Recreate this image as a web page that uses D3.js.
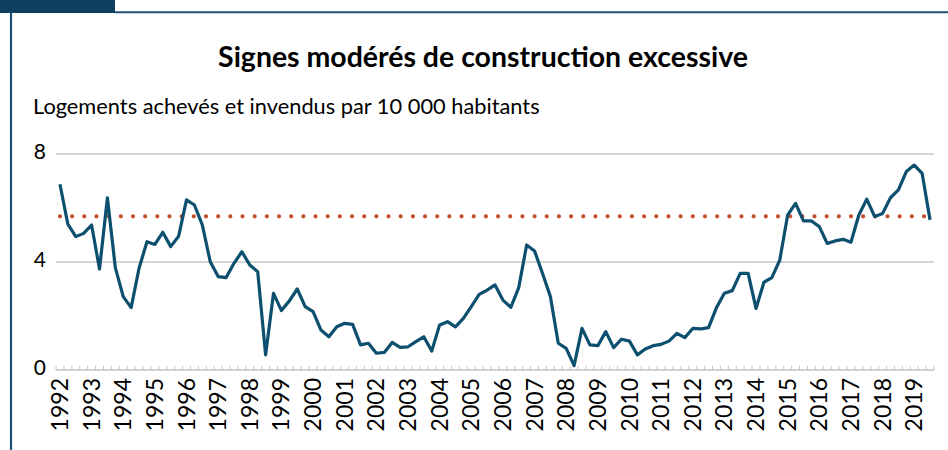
<!DOCTYPE html>
<html>
<head>
<meta charset="utf-8">
<script src="https://cdn.jsdelivr.net/npm/d3@7"></script>
<style>
  html, body { margin: 0; padding: 0; background: #fff; }
  svg { display: block; }
  text { font-family: Lato, "Open Sans", sans-serif; fill: #000; }
</style>
</head>
<body>
<svg id="chart" width="948" height="450"></svg>
<script>
// ---- Data (quarterly, 1992Q1 – 2019Q3) ----
const startYear = 1992;
const values = [
  6.88, 5.40, 4.94, 5.06, 5.37, 3.74, 6.38, 3.79, 2.72, 2.31, 3.77, 4.75,
  4.65, 5.10, 4.57, 4.95, 6.30, 6.11, 5.37, 4.01, 3.46, 3.42, 3.95, 4.38,
  3.89, 3.64, 0.56, 2.84, 2.20, 2.56, 3.00, 2.35, 2.16, 1.48, 1.23, 1.60,
  1.73, 1.69, 0.93, 0.99, 0.62, 0.65, 1.02, 0.84, 0.86, 1.05, 1.23, 0.70,
  1.67, 1.79, 1.60, 1.91, 2.35, 2.80, 2.96, 3.15, 2.59, 2.32, 3.05, 4.63,
  4.41, 3.58, 2.72, 0.99, 0.80, 0.16, 1.54, 0.93, 0.90, 1.42, 0.83, 1.14,
  1.07, 0.56, 0.78, 0.90, 0.95, 1.07, 1.36, 1.20, 1.54, 1.52, 1.57, 2.31,
  2.84, 2.94, 3.58, 3.58, 2.28, 3.25, 3.42, 4.07, 5.74, 6.17, 5.52, 5.52,
  5.31, 4.69, 4.78, 4.84, 4.73, 5.74, 6.33, 5.68, 5.80, 6.38, 6.67, 7.35,
  7.59, 7.28, 5.56
];
const averageValue = 5.69;
const yTicks = [0, 4, 8];
const yearLabels = d3.range(1992, 2020).map(String);
const titleText = "Signes modérés de construction excessive";
const subtitleText = "Logements achevés et invendus par 10 000 habitants";

// ---- Layout ----
const svg = d3.select("#chart");
const frameColor = "#1d5278";
const lineColor = "#0c4f6e";
const avgColor = "#c24e2a";
const gridColor = "#c8c8c8";

// Frame / header tab
svg.append("rect").attr("x", 0).attr("y", 0).attr("width", 115).attr("height", 13).attr("fill", "#0f3f61");
svg.append("line").attr("x1", 115).attr("x2", 948).attr("y1", 12.2).attr("y2", 12.2)
  .attr("stroke", frameColor).attr("stroke-width", 2);
svg.append("line").attr("x1", 11).attr("x2", 11).attr("y1", 12).attr("y2", 450)
  .attr("stroke", frameColor).attr("stroke-width", 2.2);

// Fit text to a target width
function fitText(sel, targetWidth, startSize) {
  sel.style("font-size", startSize + "px");
  const w = sel.node().getComputedTextLength();
  const s = startSize * targetWidth / w;
  sel.style("font-size", s + "px");
}

const title = svg.append("text").attr("x", 483).attr("y", 67)
  .attr("text-anchor", "middle").style("font-weight", "700").text(titleText);
fitText(title, 530, 22);

const subtitle = svg.append("text").attr("x", 33).attr("y", 114).text(subtitleText);
fitText(subtitle, 507, 20);

// Scales
const idx = d3.range(values.length);
const x = d3.scaleBand().domain(idx).range([56, 934]).padding(0);
const cx = i => x(i) + x.bandwidth() / 2;
const y = d3.scaleLinear().domain([0, 8]).range([370, 154]);

// Gridlines
svg.append("g").selectAll("line").data(yTicks.filter(d => d > 0)).join("line")
  .attr("x1", 56).attr("x2", 934)
  .attr("y1", d => y(d)).attr("y2", d => y(d))
  .attr("stroke", gridColor).attr("stroke-width", 1.3);

// Y axis labels
const yAxis = d3.axisLeft(y).tickValues(yTicks).tickSize(0).tickPadding(0).tickFormat(d3.format("d"));
const gy = svg.append("g").attr("transform", "translate(46,-2)").call(yAxis);
gy.select(".domain").remove();
gy.selectAll("text").style("font-size", "21px").style("font-family", "Lato, sans-serif").attr("fill", "#000");

// X axis line + minor ticks
svg.append("line").attr("x1", 56).attr("x2", 934).attr("y1", y(0)).attr("y2", y(0))
  .attr("stroke", "#c4c4c4").attr("stroke-width", 1.5);
const boundaries = d3.range(values.length + 1).map(i => x.range()[0] + i * x.step());
svg.append("g").selectAll("line").data(boundaries).join("line")
  .attr("x1", d => d).attr("x2", d => d)
  .attr("y1", y(0) - 4).attr("y2", y(0))
  .attr("stroke", "#c4c4c4").attr("stroke-width", 1);

// X labels (rotated)
const yearIdx = yearLabels.map((s, k) => k * 4);
const xAxis = d3.axisBottom(x).tickValues(yearIdx).tickSize(0).tickPadding(0)
  .tickFormat(i => yearLabels[i / 4]);
const gx = svg.append("g").attr("transform", "translate(0,378)").call(xAxis);
gx.select(".domain").remove();
gx.selectAll("text")
  .style("font-size", "23px").style("font-family", "Lato, sans-serif").attr("fill", "#000")
  .attr("transform", "rotate(-90)")
  .attr("text-anchor", "end")
  .attr("x", 0).attr("y", 0).attr("dy", "0.35em");

// Average dotted line
svg.append("line")
  .attr("x1", cx(0)).attr("x2", cx(values.length - 1))
  .attr("y1", y(averageValue)).attr("y2", y(averageValue))
  .attr("stroke", avgColor).attr("stroke-width", 4.2)
  .attr("stroke-linecap", "round").attr("stroke-dasharray", "0 12.17");

// Main line
const line = d3.line().x((d, i) => cx(i)).y(d => y(d));
svg.append("path").datum(values).attr("d", line)
  .attr("fill", "none").attr("stroke", lineColor).attr("stroke-width", 3.2)
  .attr("stroke-linejoin", "round").attr("stroke-linecap", "butt");
</script>
</body>
</html>
